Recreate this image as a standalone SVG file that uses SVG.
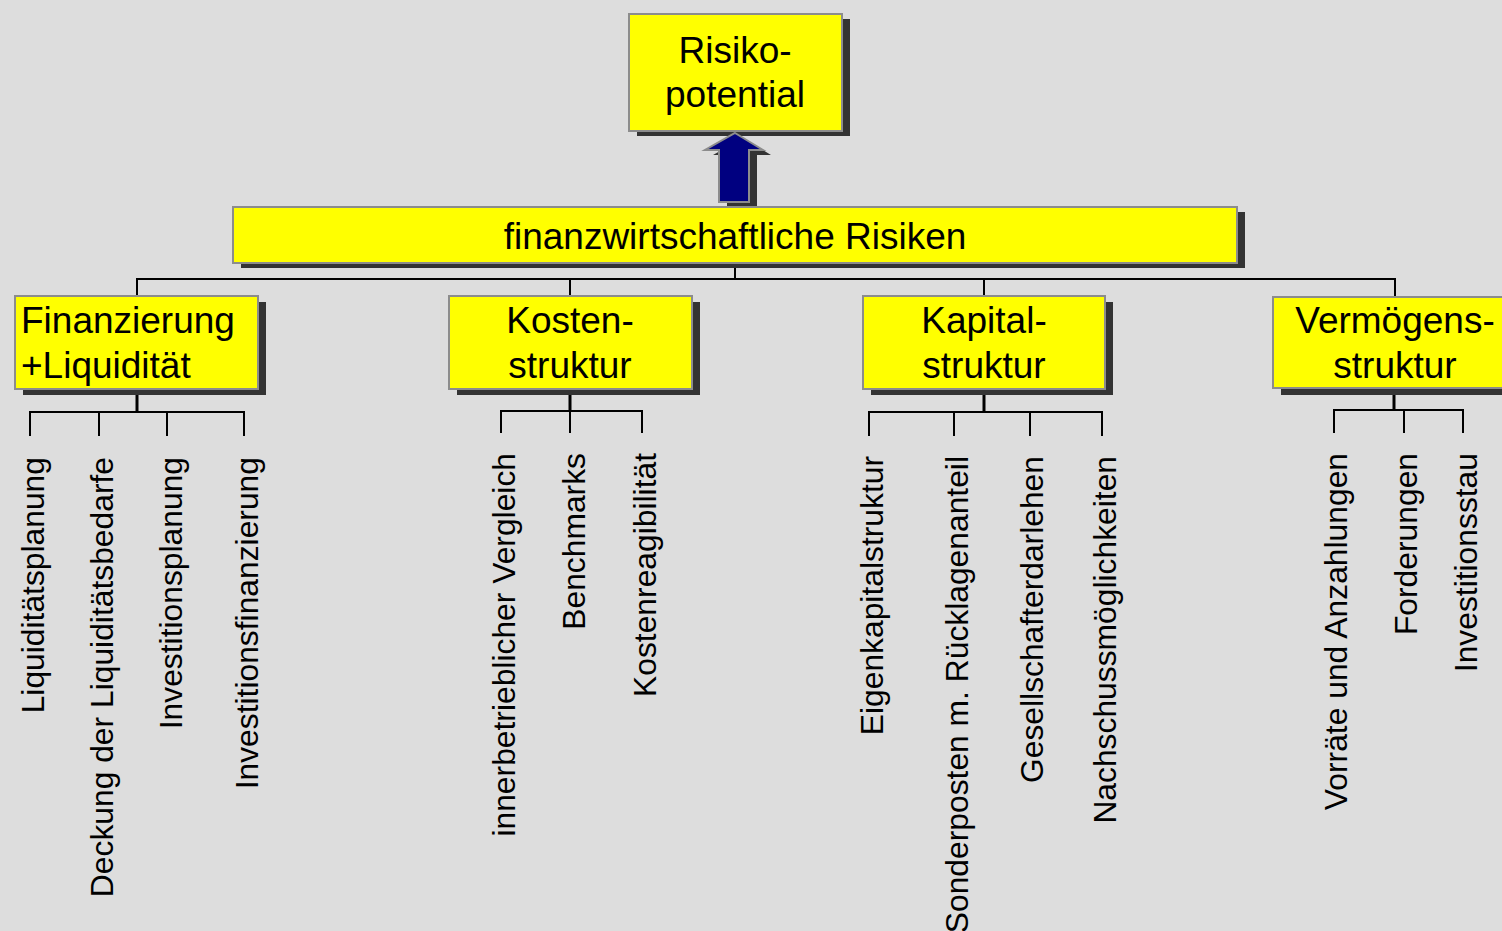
<svg xmlns="http://www.w3.org/2000/svg" width="1502" height="931" viewBox="0 0 1502 931">
<style>
.bg{fill:#DDDDDD}
.box{fill:#FFFF00;stroke:#8C8C8C;stroke-width:2}
.sh{fill:#333333}
.t{font-family:"Liberation Sans",Arial,sans-serif;font-size:37px;fill:#000}
.leaf{font-family:"Liberation Sans",Arial,sans-serif;font-size:31.8px;fill:#000}
.ln{stroke:#000;stroke-width:2;fill:none}
.lt{stroke:#000;stroke-width:3;fill:none}
.arr{fill:#000080;stroke:#8C8C8C;stroke-width:2}
</style>
<rect class="bg" x="0" y="0" width="1502" height="931"/>

<g id="connectors">
  <line class="ln" x1="735" y1="263" x2="735" y2="279"/>
  <line class="ln" x1="136" y1="279" x2="1396" y2="279"/>
  <line class="ln" x1="137" y1="279" x2="137" y2="296"/>
  <line class="ln" x1="570" y1="279" x2="570" y2="296"/>
  <line class="ln" x1="984" y1="279" x2="984" y2="296"/>
  <line class="ln" x1="1395" y1="279" x2="1395" y2="297"/>

  <line class="lt" x1="137" y1="389" x2="137" y2="412"/>
  <polyline class="ln" points="30,436 30,412 244,412 244,436"/>
  <line class="ln" x1="99" y1="412" x2="99" y2="436"/>
  <line class="ln" x1="167" y1="412" x2="167" y2="436"/>

  <line class="lt" x1="570" y1="389" x2="570" y2="411"/>
  <polyline class="ln" points="501,433 501,411 642,411 642,433"/>
  <line class="ln" x1="570" y1="411" x2="570" y2="433"/>

  <line class="lt" x1="984" y1="389" x2="984" y2="412"/>
  <polyline class="ln" points="869,436 869,412 1102,412 1102,436"/>
  <line class="ln" x1="954" y1="412" x2="954" y2="436"/>
  <line class="ln" x1="1030" y1="412" x2="1030" y2="436"/>

  <line class="lt" x1="1394" y1="388" x2="1394" y2="410"/>
  <polyline class="ln" points="1334,433 1334,410 1463,410 1463,433"/>
  <line class="ln" x1="1404" y1="410" x2="1404" y2="433"/>
</g>

<g id="node-risikopotential">
  <rect class="sh" x="637" y="19" width="213" height="117"/>
  <rect class="box" x="629" y="14" width="213" height="117"/>
  <text class="t" x="735" y="63" text-anchor="middle">Risiko-</text>
  <text class="t" x="735" y="107" text-anchor="middle">potential</text>
</g>

<g id="arrow-up">
  <polygon class="sh" points="743,138 771,155 757,155 757,207 727,207 727,155 713,155"/>
  <polygon class="arr" points="735,133 763,150 749,150 749,202 719,202 719,150 705,150"/>
</g>

<g id="node-finanzwirtschaftliche-risiken">
  <rect class="sh" x="241" y="212" width="1004" height="56"/>
  <rect class="box" x="233" y="207" width="1004" height="56"/>
  <text class="t" x="735" y="249" text-anchor="middle">finanzwirtschaftliche Risiken</text>
</g>

<g id="node-finanzierung">
  <rect class="sh" x="23" y="302" width="243" height="93"/>
  <rect class="box" x="15" y="296" width="243" height="93"/>
  <text class="t" x="21" y="333">Finanzierung</text>
  <text class="t" x="21" y="378">+Liquidität</text>
</g>

<g id="node-kostenstruktur">
  <rect class="sh" x="457" y="302" width="243" height="93"/>
  <rect class="box" x="449" y="296" width="243" height="93"/>
  <text class="t" x="570" y="333" text-anchor="middle">Kosten-</text>
  <text class="t" x="570" y="378" text-anchor="middle">struktur</text>
</g>

<g id="node-kapitalstruktur">
  <rect class="sh" x="871" y="302" width="242" height="93"/>
  <rect class="box" x="863" y="296" width="242" height="93"/>
  <text class="t" x="984" y="333" text-anchor="middle">Kapital-</text>
  <text class="t" x="984" y="378" text-anchor="middle">struktur</text>
</g>

<g id="node-vermoegensstruktur">
  <rect class="sh" x="1281" y="303" width="243" height="92"/>
  <rect class="box" x="1273" y="297" width="243" height="91"/>
  <text class="t" x="1395" y="333" text-anchor="middle">Vermögens-</text>
  <text class="t" x="1395" y="378" text-anchor="middle">struktur</text>
</g>

<g id="leaf-liquiditaetsplanung"><text class="leaf" text-anchor="end" transform="translate(44,457) rotate(-90)">Liquiditätsplanung</text></g>
<g id="leaf-deckung"><text class="leaf" text-anchor="end" transform="translate(113,457) rotate(-90)">Deckung der Liquiditätsbedarfe</text></g>
<g id="leaf-investitionsplanung"><text class="leaf" text-anchor="end" transform="translate(182,457) rotate(-90)">Investitionsplanung</text></g>
<g id="leaf-investitionsfinanzierung"><text class="leaf" text-anchor="end" transform="translate(258,457) rotate(-90)">Investitionsfinanzierung</text></g>

<g id="leaf-innerbetrieblicher-vergleich"><text class="leaf" text-anchor="end" transform="translate(515,453) rotate(-90)">innerbetrieblicher Vergleich</text></g>
<g id="leaf-benchmarks"><text class="leaf" text-anchor="end" transform="translate(585,453) rotate(-90)">Benchmarks</text></g>
<g id="leaf-kostenreagibilitaet"><text class="leaf" text-anchor="end" transform="translate(656,453) rotate(-90)">Kostenreagibilität</text></g>

<g id="leaf-eigenkapitalstruktur"><text class="leaf" text-anchor="end" transform="translate(883,456) rotate(-90)">Eigenkapitalstruktur</text></g>
<g id="leaf-sonderposten"><text class="leaf" text-anchor="end" transform="translate(968,456) rotate(-90)">Sonderposten m. Rücklagenanteil</text></g>
<g id="leaf-gesellschafterdarlehen"><text class="leaf" text-anchor="end" transform="translate(1043,456) rotate(-90)">Gesellschafterdarlehen</text></g>
<g id="leaf-nachschussmoeglichkeiten"><text class="leaf" text-anchor="end" transform="translate(1116,456) rotate(-90)">Nachschussmöglichkeiten</text></g>

<g id="leaf-vorraete"><text class="leaf" text-anchor="end" transform="translate(1347,453) rotate(-90)">Vorräte und Anzahlungen</text></g>
<g id="leaf-forderungen"><text class="leaf" text-anchor="end" transform="translate(1417,453) rotate(-90)">Forderungen</text></g>
<g id="leaf-investitionsstau"><text class="leaf" text-anchor="end" transform="translate(1477,453) rotate(-90)">Investitionsstau</text></g>
</svg>
